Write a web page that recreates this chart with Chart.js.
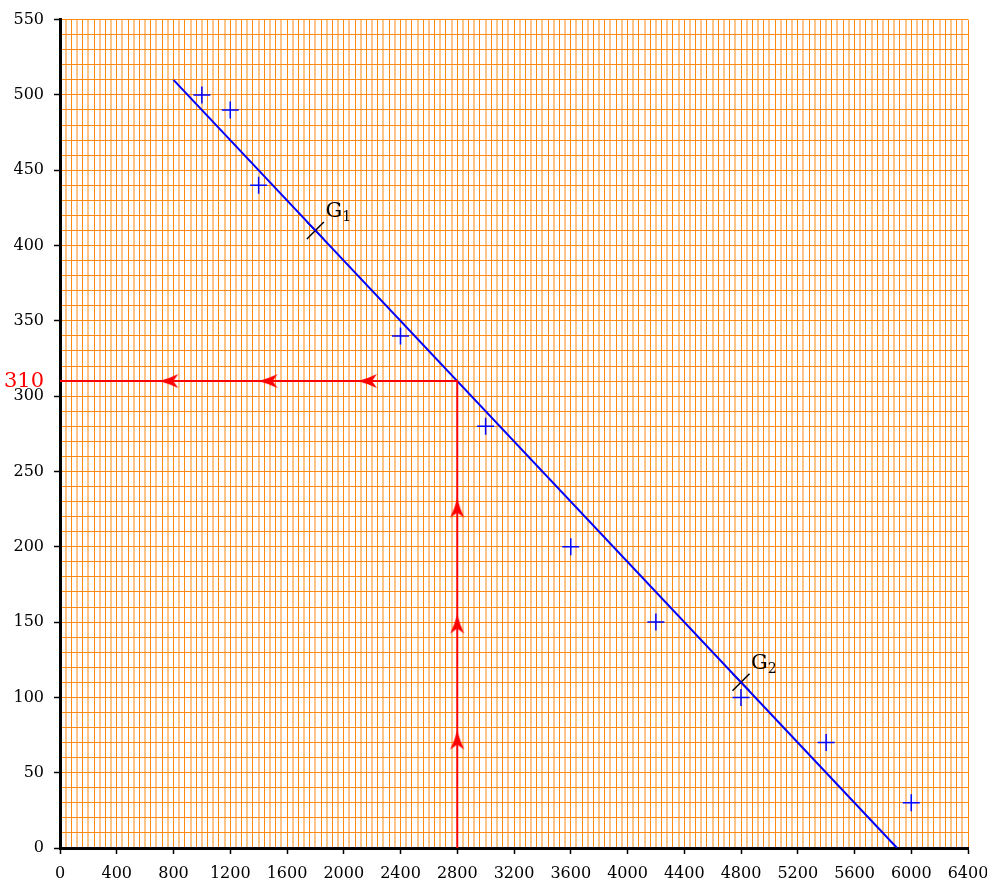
<!DOCTYPE html>
<html>
<head>
<meta charset="utf-8">
<script src="https://cdn.jsdelivr.net/npm/chart.js@4"></script>
<style>
  body { margin: 0; background: #fff; }
</style>
</head>
<body>
<canvas id="chartContainer" width="987" height="884"></canvas>
<script>
"use strict";

// 1: data
const pointsX = [1000, 1200, 1400, 2400, 3000, 3600, 4200, 4800, 5400, 6000];
const pointsY = [500, 490, 440, 340, 280, 200, 150, 100, 70, 30];
const fitX = [800, 5900];
const fitY = [510, 0];
const centresX = [1800, 4800];
const centresY = [410, 110];
const centreNames = ['1', '2'];
const readX = [2800, 2800, 0];
const readY = [0, 310, 310];
const upArrowsX = [2800, 2800, 2800];
const upArrowsY = [78, 155, 232];
const leftArrowsX = [2100, 1400, 700];
const leftArrowsY = [310, 310, 310];
const xLabelStep = 400;
const yLabelStep = 50;
const yMarked = 310;

function toPoints(xs, ys) {
  return xs.map((x, i) => ({ x: x, y: ys[i] }));
}

// tick value of a scriptable context (NaN when there is no tick)
function tv(c) {
  return c && c.tick ? Math.round(c.tick.value) : NaN;
}

// arrow head, tip in the middle of the canvas
function arrowHead() {
  let c = document.createElement('canvas');
  c.width = 44;
  c.height = 44;
  let g = c.getContext('2d');
  g.fillStyle = '#ff0000';
  g.beginPath();
  g.moveTo(22, 22);
  g.quadraticCurveTo(25, 33, 29, 41);
  g.lineTo(22, 36);
  g.lineTo(15, 41);
  g.quadraticCurveTo(19, 33, 22, 22);
  g.closePath();
  g.fill();
  return c;
}
const arrow = arrowHead();

// G1 / G2 names
const centreLabels = {
  id: 'centreLabels',
  afterDatasetsDraw(chart) {
    const ctx = chart.ctx;
    const xs = chart.scales.x;
    const ys = chart.scales.y;
    ctx.save();
    ctx.fillStyle = '#000';
    ctx.textBaseline = 'alphabetic';
    centresX.forEach((v, i) => {
      const px = xs.getPixelForValue(v) + 10;
      const py = ys.getPixelForValue(centresY[i]) - 13;
      ctx.font = '21px "DejaVu Serif"';
      ctx.fillText('G', px, py);
      const w = ctx.measureText('G').width;
      ctx.font = '14px "DejaVu Serif"';
      ctx.fillText(centreNames[i], px + w, py + 4);
    });
    ctx.restore();
  }
};

const orange = '#ff8a10';
const orangeLight = '#ffc48a';

let chart = new Chart(document.getElementById('chartContainer'), {
  type: 'scatter',
  data: {
    datasets: [{
      data: toPoints(readX, readY),
      showLine: true,
      borderColor: '#ff0000',
      borderWidth: 2,
      pointRadius: 0,
      fill: false
    },
    {
      data: toPoints(upArrowsX, upArrowsY),
      pointStyle: arrow,
      pointRadius: 10,
      pointRotation: 0
    },
    {
      data: toPoints(leftArrowsX, leftArrowsY),
      pointStyle: arrow,
      pointRadius: 10,
      pointRotation: -90
    },
    {
      data: toPoints(fitX, fitY),
      showLine: true,
      borderColor: '#0000ff',
      borderWidth: 2,
      pointRadius: 0,
      fill: false
    },
    {
      data: toPoints(pointsX, pointsY),
      pointStyle: 'cross',
      pointRadius: 8.5,
      borderColor: '#0000ff',
      borderWidth: 1.5
    },
    {
      data: toPoints(centresX, centresY),
      pointStyle: 'crossRot',
      pointRadius: 12,
      borderColor: '#000',
      borderWidth: 1.5
    }]
  },
  options: {
    responsive: false,
    animation: false,
    layout: { padding: { top: 16, right: 19, left: 0, bottom: 0 } },
    plugins: {
      legend: { display: false },
      tooltip: { enabled: false }
    },
    scales: {
      x: {
        type: 'linear',
        min: 0,
        max: 6400,
        afterFit(s) { s.height = 36; s.paddingRight = 0; s.paddingLeft = 0; },
        border: { display: true, color: '#000', width: 3 },
        grid: {
          color: (c) => tv(c) % 80 === 0 ? orange : orangeLight,
          lineWidth: (c) => tv(c) % 80 === 0 ? 1 : 2,
          tickColor: (c) => tv(c) % xLabelStep === 0 ? '#000' : 'rgba(0,0,0,0)',
          tickWidth: 1.5,
          tickLength: 6
        },
        ticks: {
          stepSize: 40,
          autoSkip: false,
          maxRotation: 0,
          padding: 10,
          color: '#000',
          font: { family: 'DejaVu Serif', size: 16 },
          callback: (v) => Math.round(v) % xLabelStep === 0 ? String(Math.round(v)) : ''
        }
      },
      y: {
        type: 'linear',
        min: 0,
        max: 550,
        afterFit(s) { s.width = 60; },
        border: { display: true, color: '#000', width: 3 },
        grid: {
          color: orange,
          lineWidth: 1,
          tickColor: (c) => tv(c) % yLabelStep === 0 ? '#000' : 'rgba(0,0,0,0)',
          tickWidth: 1.5,
          tickLength: 6
        },
        ticks: {
          stepSize: 10,
          autoSkip: false,
          padding: 10,
          color: (c) => tv(c) === yMarked ? '#ff0000' : '#000',
          font: (c) => ({ family: 'DejaVu Serif', size: tv(c) === yMarked ? 21 : 16 }),
          callback: (v) => {
            v = Math.round(v);
            return (v % yLabelStep === 0 || v === yMarked) ? String(v) : '';
          }
        }
      }
    }
  },
  plugins: [centreLabels]
});
</script>
</body>
</html>
